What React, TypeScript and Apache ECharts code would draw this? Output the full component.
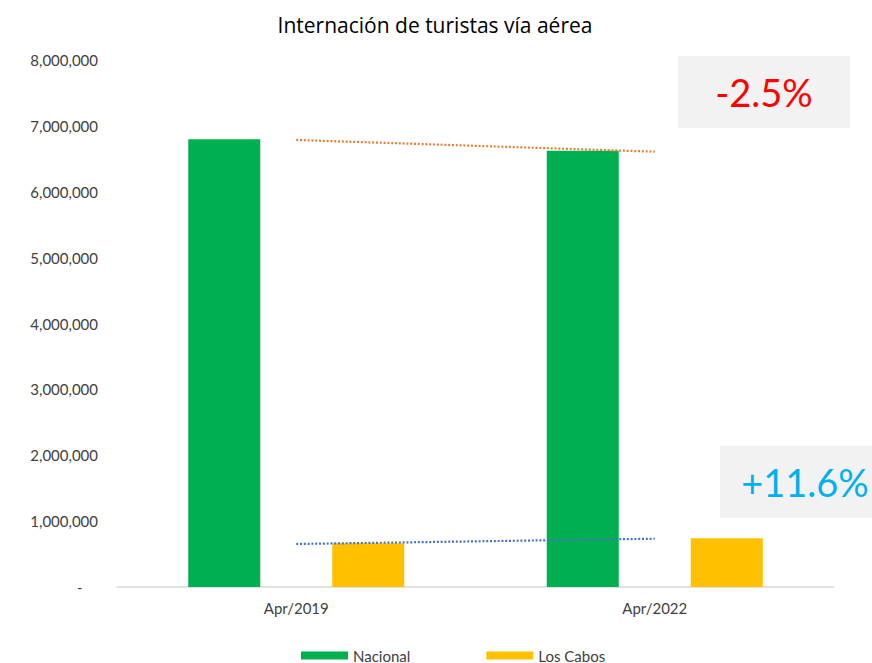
import React, { useEffect, useRef } from "react";
import * as echarts from "echarts";

const categories = ["Apr/2019", "Apr/2022"];
const nacional = [6797000, 6623000];
const losCabos = [663000, 739000];
const trendNacional = [6786000, 6608000];
const trendLosCabos = [653000, 733000];
const changeNacional = "-2.5%";
const changeLosCabos = "+11.6%";

const FONT = "Lato, 'Open Sans', sans-serif";

export default function App() {
  const ref = useRef<HTMLDivElement>(null);
  useEffect(() => {
    if (!ref.current) return;
    const chart = echarts.init(ref.current, null, { renderer: "svg" });
    chart.setOption({
      animation: false,
      backgroundColor: "#ffffff",
      textStyle: { fontFamily: FONT },
      title: {
        text: "Internación de turistas vía aérea",
        left: 430,
        textAlign: "center",
        top: 9,
        textStyle: { fontSize: 21, fontWeight: "normal", color: "#000000", fontFamily: "'Open Sans', sans-serif" },
      },
      grid: { left: 117, right: 38, top: 60, bottom: 76, containLabel: false },
      legend: {
        data: ["Nacional", "Los Cabos"],
        left: 301,
        top: 648,
        padding: 0,
        itemWidth: 47,
        itemHeight: 8,
        itemGap: 76,
        icon: "rect",
        textStyle: { fontSize: 15, color: "#404040", fontFamily: FONT },
      },
      xAxis: {
        type: "category",
        data: categories,
        axisLine: { show: true, lineStyle: { color: "#d9d9d9", width: 1.5 } },
        axisTick: { show: false },
        axisLabel: { fontSize: 15, color: "#404040", margin: 13, fontFamily: FONT },
      },
      yAxis: {
        type: "value",
        min: 0,
        max: 8000000,
        interval: 1000000,
        axisLine: { show: false },
        axisTick: { show: false },
        splitLine: { show: false },
        axisLabel: {
          fontSize: 15,
          color: "#404040",
          margin: 19,
          fontFamily: FONT,
          formatter: (v: number) => (v === 0 ? "-    " : v.toLocaleString("en-US")),
        },
      },
      series: [
        {
          name: "Nacional",
          type: "bar",
          data: nacional,
          barWidth: 72,
          barGap: "100%",
          itemStyle: { color: "#00B050" },
          z: 2,
        },
        {
          name: "Los Cabos",
          type: "bar",
          data: losCabos,
          barWidth: 72,
          itemStyle: { color: "#FFC000" },
          z: 2,
        },
        {
          name: "Tendencia Nacional",
          type: "line",
          data: trendNacional,
          symbol: "none",
          lineStyle: { color: "#ED7D31", width: 2.2, type: [2, 1.8] },
          z: 5,
        },
        {
          name: "Tendencia Los Cabos",
          type: "line",
          data: trendLosCabos,
          symbol: "none",
          lineStyle: { color: "#4472C4", width: 2.2, type: [2, 1.8] },
          z: 5,
        },
      ],
      graphic: [
        {
          type: "rect",
          shape: { x: 678, y: 56, width: 172, height: 72 },
          style: { fill: "#F2F2F2" },
          z: 10,
        },
        {
          type: "text",
          x: 764,
          y: 92,
          style: {
            text: changeNacional,
            fill: "#FF0000",
            fontSize: 38,
            fontFamily: FONT,
            align: "center",
            verticalAlign: "middle",
          },
          z: 11,
        },
        {
          type: "rect",
          shape: { x: 720, y: 446, width: 152, height: 72 },
          style: { fill: "#F2F2F2" },
          z: 10,
        },
        {
          type: "text",
          x: 805,
          y: 482,
          style: {
            text: changeLosCabos,
            fill: "#00B0F0",
            fontSize: 38,
            fontFamily: FONT,
            align: "center",
            verticalAlign: "middle",
          },
          z: 11,
        },
      ],
    });
    return () => chart.dispose();
  }, []);
  return (
    <div
      ref={ref}
      style={{ position: "fixed", left: 0, top: 0, width: 872, height: 663 }}
    />
  );
}
